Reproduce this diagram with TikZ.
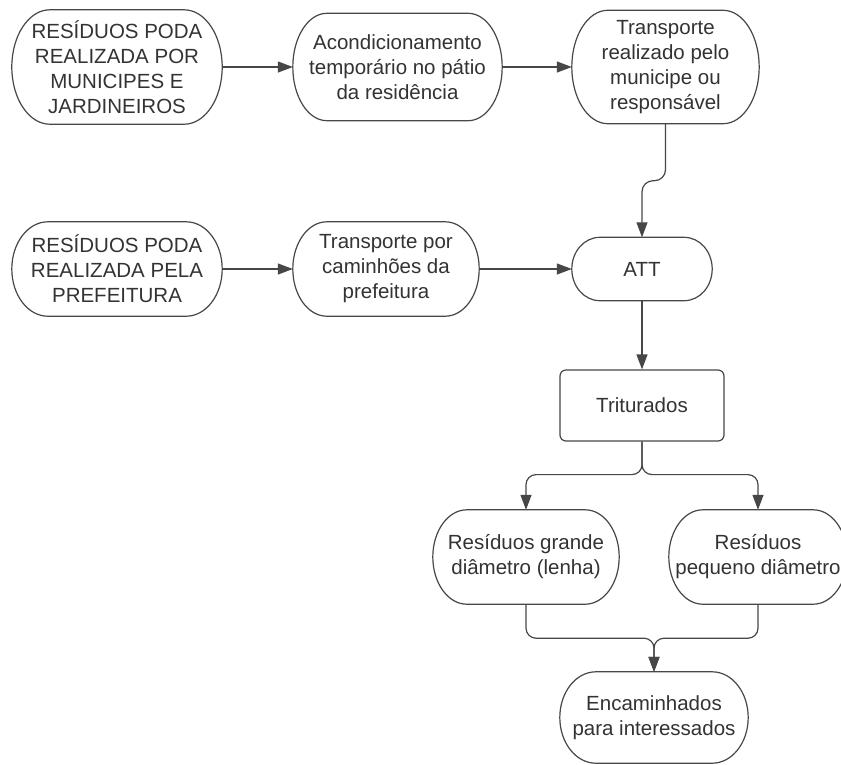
\documentclass[tikz,border=0pt]{standalone}
\usepackage{fontspec}
\setmainfont{Liberation Sans}
\usetikzlibrary{arrows.meta,calc}
\definecolor{ink}{HTML}{333333}
\definecolor{edgegray}{HTML}{474747}

% Terminator outline: flat top/bottom with half-elliptical ends of x radius #2 (pt)
\newcommand\termoutline[2]{%
  \draw[outline] let \p1=(#1.north west), \p2=(#1.south east), \n1={(\y1-\y2)/2} in
    (\x1+#2pt,\y1) -- (\x2-#2pt,\y1)
    arc[start angle=90,end angle=-90,x radius=#2pt,y radius=\n1]
    -- (\x1+#2pt,\y2)
    arc[start angle=270,end angle=90,x radius=#2pt,y radius=\n1] -- cycle;}

\begin{document}
\begin{tikzpicture}[x=1pt,y=1pt,
  lbl/.style={inner sep=0pt, align=center, text=ink,
    font=\fontsize{20.5}{25}\selectfont},
  outline/.style={draw=edgegray, line width=1.2pt},
  procbox/.style={lbl, draw=edgegray, line width=1.2pt, rounded corners=6pt},
  conn/.style={draw=edgegray, line width=1.2pt,
    -{Triangle[length=15pt,width=11pt]}}]

\path[use as bounding box, clip] (0,0) rectangle (841,-764);
\fill[white] (0,0) rectangle (841,-764);

% nodes
\node[lbl, minimum width=210pt, minimum height=114pt] (n1) at (117,-67)
  {RESÍDUOS PODA\\REALIZADA POR\\MUNICIPES E\\JARDINEIROS};
\node[lbl, minimum width=209pt, minimum height=107pt] (n2) at (397.5,-67)
  {Acondicionamento\\temporário no pátio\\da residência};
\node[lbl, minimum width=187pt, minimum height=113pt] (n3) at (665.5,-67)
  {Transporte\\realizado pelo\\municipe ou\\responsável};
\node[lbl, minimum width=210pt, minimum height=94pt] (n4) at (117,-269)
  {RESÍDUOS PODA\\REALIZADA PELA\\PREFEITURA};
\node[lbl, minimum width=186pt, minimum height=94pt] (n5) at (386,-269)
  {Transporte por\\caminhões da\\prefeitura};
\node[lbl, minimum width=140pt, minimum height=63pt] (att) at (642,-269) {ATT};
\node[procbox, minimum width=164pt, minimum height=71pt] (trit) at (642,-405.5)
  {Triturados};
\node[lbl, minimum width=186pt, minimum height=94pt] (n8) at (526,-557)
  {Resíduos grande\\diâmetro (lenha)};
\node[lbl, minimum width=178pt, minimum height=94pt] (n9) at (758,-557)
  {Resíduos\\pequeno diâmetro};
\node[lbl, minimum width=188pt, minimum height=91pt] (enc) at (654,-717.5)
  {Encaminhados\\para interessados};

% outlines
\termoutline{n1}{38}
\termoutline{n2}{34}
\termoutline{n3}{36}
\termoutline{n4}{36}
\termoutline{n5}{34}
\termoutline{att}{28}
\termoutline{n8}{34}
\termoutline{n9}{34}
\termoutline{enc}{36}

% connectors
\draw[conn] (n1.east) -- (n2.west);
\draw[conn] (n2.east) -- (n3.west);
\draw[conn] (n4.east) -- (n5.west);
\draw[conn] (n5.east) -- (att.west);
\draw[conn, rounded corners=11pt] (n3.south) -- ++(0,-57) -| (att.north);
\draw[conn] (att.south) -- (trit.north);
\draw[conn, rounded corners=10pt] (trit.south) -- ++(0,-33) -| (n8.north);
\draw[conn, rounded corners=10pt] (trit.south) -- ++(0,-33) -| (n9.north);
\draw[conn, rounded corners=10pt] (n8.south) -- ++(0,-34) -| (enc.north);
\draw[conn, rounded corners=10pt] (n9.south) -- ++(0,-34) -| (enc.north);
\end{tikzpicture}
\end{document}
